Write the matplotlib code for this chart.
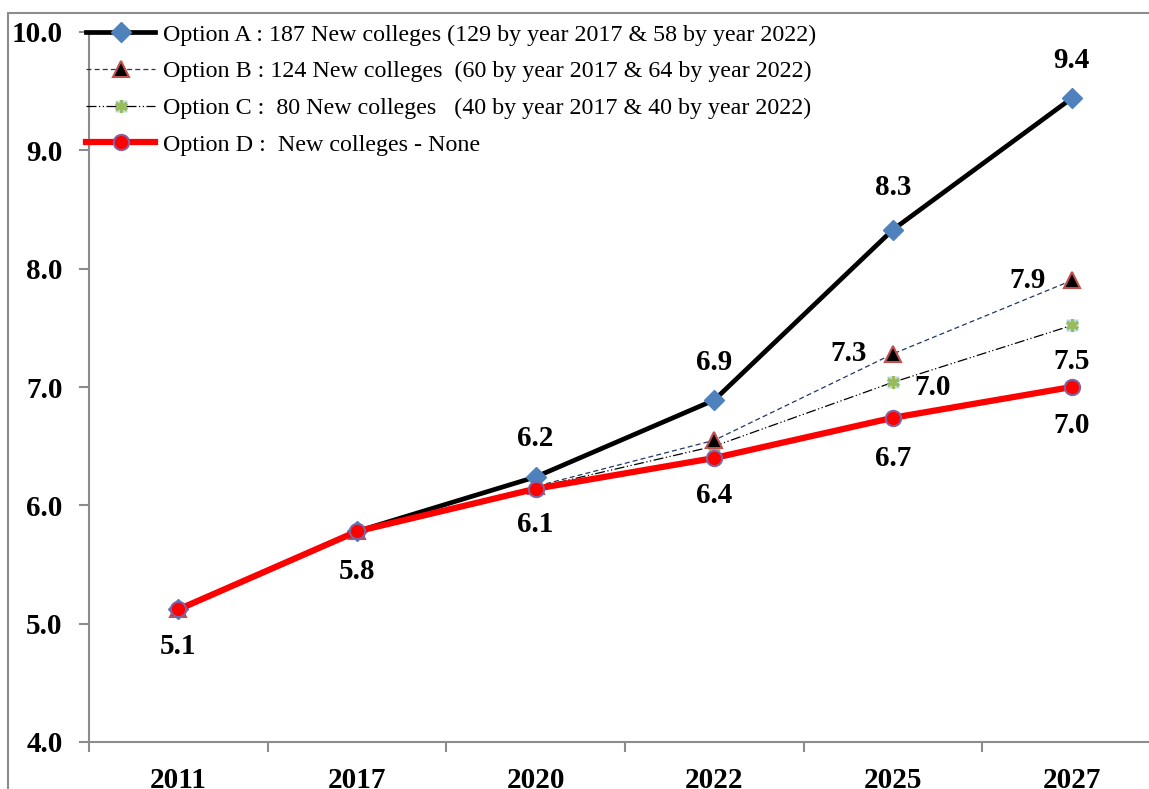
import matplotlib
matplotlib.use("Agg")
import matplotlib.pyplot as plt
from matplotlib.patches import Rectangle
from matplotlib.ticker import FixedLocator, NullFormatter

plt.rcParams['font.family'] = ['Liberation Serif', 'DejaVu Serif']

years = ['2011', '2017', '2020', '2022', '2025', '2027']
opt_a = [5.12, 5.78, 6.24, 6.89, 8.33, 9.44]
opt_b = [5.12, 5.78, 6.16, 6.55, 7.28, 7.90]
opt_c = [5.12, 5.78, 6.15, 6.50, 7.04, 7.52]
opt_d = [5.12, 5.78, 6.14, 6.40, 6.74, 7.00]
labels = [
    'Option A : 187 New colleges (129 by year 2017 & 58 by year 2022)',
    'Option B : 124 New colleges  (60 by year 2017 & 64 by year 2022)',
    'Option C :  80 New colleges   (40 by year 2017 & 40 by year 2022)',
    'Option D :  New colleges - None',
]
yticks = [4.0, 5.0, 6.0, 7.0, 8.0, 9.0, 10.0]

W, H = 1149, 789
fig = plt.figure(figsize=(W / 100, H / 100), dpi=100)
ax = fig.add_axes([89 / W, 1 - 742 / H, (1161 - 89) / W, (742 - 32) / H])

# outer chart border (cropped on right/bottom)
fig.patches.append(Rectangle((8 / W, -0.5), 2.0, 1.5 - 13 / H, transform=fig.transFigure,
                             fill=False, edgecolor='#8c8c8c', lw=1.5, zorder=0))

x = list(range(len(years)))

la, = ax.plot(x, opt_a, color='black', lw=3.4, marker='D', ms=10,
              mfc='#4F81BD', mec='#4F81BD', zorder=5)
lb, = ax.plot(x, opt_b, color='#1F3864', lw=0.9, ls=(0, (4, 2.5)), marker='^', ms=12,
              mfc='black', mec='#C0504D', mew=1.5, zorder=4)
lc_bg, = ax.plot(x, opt_c, ls='none', marker='s', ms=8, mfc='#B7DEE8', mec='none', zorder=3)
lc, = ax.plot(x, opt_c, color='black', lw=0.9, ls=(0, (8, 2, 1, 2, 1, 2)), marker=(6, 2, 0), ms=9,
              mec='#9BBB59', mew=2.2, zorder=3.1)
ld, = ax.plot(x, opt_d, color='#FF0000', lw=4.5, marker='o', ms=11,
              mfc='#FF0000', mec='#8064A2', mew=1.5, zorder=6)

lab_kw = dict(fontsize=21, fontweight='bold', ha='center', va='center', zorder=10)

def px(dx, dy):
    return dict(xytext=(dx * 0.72, -dy * 0.72), textcoords='offset points')

# Option A labels (above) for 2020 onwards
for i, (dx, dy) in zip(range(2, 6), [(0, -38), (0, -38), (0, -42), (0, -38)]):
    ax.annotate(f'{opt_a[i]:.1f}', (x[i], opt_a[i]), **px(dx, dy), **lab_kw)
# Option B labels (left)
for i, (dx, dy) in zip([4, 5], [(-44, 0), (-44, 0)]):
    ax.annotate(f'{opt_b[i]:.1f}', (x[i], opt_b[i]), **px(dx, dy), **lab_kw)
# Option C labels
for i, (dx, dy) in zip([4, 5], [(40, 5), (0, 36)]):
    ax.annotate(f'{opt_c[i]:.1f}', (x[i], opt_c[i]), **px(dx, dy), **lab_kw)
# Option D labels (below)
for i, (dx, dy) in zip(range(6), [(0, 37), (0, 40), (0, 36), (0, 38), (0, 41), (0, 38)]):
    ax.annotate(f'{opt_d[i]:.1f}', (x[i], opt_d[i]), **px(dx, dy), **lab_kw)

ax.set_xlim(-0.5, 5.5)
ax.set_ylim(4.0, 10.0)
ax.set_yticks(yticks)
ax.set_yticklabels([f'{v:.1f}' for v in yticks], fontsize=21, fontweight='bold')
ax.set_xticks(x)
ax.set_xticklabels(years, fontsize=21, fontweight='bold')
ax.xaxis.set_minor_locator(FixedLocator([i - 0.5 for i in range(7)]))
ax.xaxis.set_minor_formatter(NullFormatter())
ax.tick_params(axis='x', which='major', length=0, pad=18)
ax.tick_params(axis='x', which='minor', length=7, width=1.5, color='#8c8c8c', direction='out')
ax.tick_params(axis='y', length=7, width=1.5, color='#8c8c8c', direction='out', pad=12)

for s in ['top', 'right']:
    ax.spines[s].set_visible(False)
for s in ['left', 'bottom']:
    ax.spines[s].set_color('#8c8c8c')
    ax.spines[s].set_linewidth(1.5)

leg = ax.legend([la, lb, (lc_bg, lc), ld], labels, loc='upper left',
                bbox_to_anchor=(-0.012, 1.025), frameon=False, fontsize=17.3,
                handlelength=2.9, handletextpad=0.3, labelspacing=0.62, borderaxespad=0)

fig.savefig('out.png', dpi=100)
